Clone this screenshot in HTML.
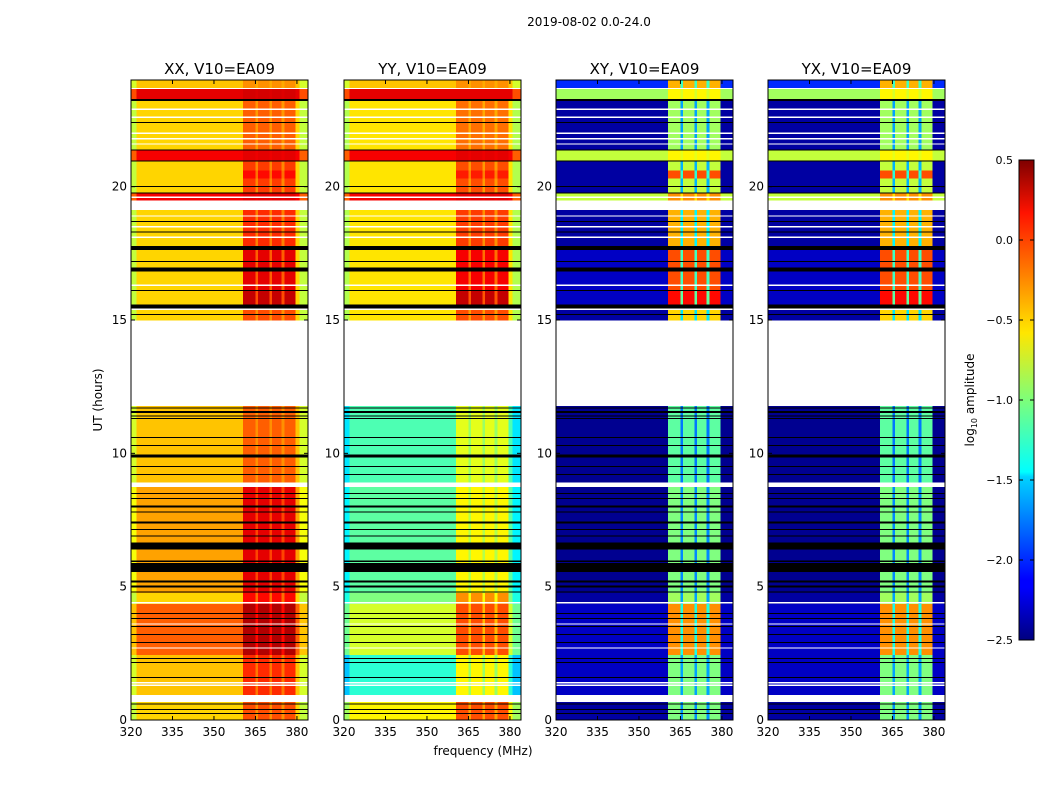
<!DOCTYPE html>
<html><head><meta charset="utf-8"><style>
body{margin:0;background:#fff;width:1050px;height:800px;overflow:hidden;font-family:"Liberation Sans","DejaVu Sans",sans-serif}
svg text{font-family:"DejaVu Sans","Liberation Sans",sans-serif;fill:#000}
</style></head><body>
<svg id="chart" width="1050" height="800" viewBox="0 0 1050 800" xmlns="http://www.w3.org/2000/svg">
<defs><linearGradient id="jet" x1="0" y1="1" x2="0" y2="0">
<stop offset="0" stop-color="#00007f"/><stop offset="0.11" stop-color="#0000ff"/><stop offset="0.125" stop-color="#0000ff"/><stop offset="0.34" stop-color="#00d4ff"/><stop offset="0.35" stop-color="#0ff"/><stop offset="0.5" stop-color="#7dff7a"/><stop offset="0.64" stop-color="#ffe600"/><stop offset="0.66" stop-color="#ffd700"/><stop offset="0.89" stop-color="#ff1300"/><stop offset="1" stop-color="#7f0000"/>
</linearGradient></defs>
<text x="589" y="26" font-size="12" text-anchor="middle">2019-08-02 0.0-24.0</text>
<text x="483" y="755" font-size="12" text-anchor="middle">frequency (MHz)</text>
<text x="0" y="0" font-size="12" text-anchor="middle" transform="translate(102,400) rotate(-90)">UT (hours)</text>
<g id="panels"></g>
<g>
<rect x="1019" y="160" width="15" height="480" fill="url(#jet)" stroke="#000" stroke-width="1"/>
<g id="cbticks"></g>
<text x="0" y="0" font-size="12" text-anchor="middle" transform="translate(974,400) rotate(-90)">log<tspan font-size="8" dy="3">10</tspan><tspan dy="-3"> amplitude</tspan></text>
</g>
</svg>
<script>
// ---- data ----
const panelTitles = ['XX, V10=EA09','YY, V10=EA09','XY, V10=EA09','YX, V10=EA09'];
const freqEdges = [320,322,326,345,356,360.5,365,366,370,371,374.5,375.5,379.5,381,384];
const colKind = ['e','m','m','m','m','h','g','h','g','h','g','h','m','e'];
const segT0 = [23.7,23.25,21.37,20.96,20.6,20.3,19.76,19.5,17.7,16.1,15.4,15.0,8.92,4.76,4.35,2.44,0.94,0.0];
const segT1 = [24.0,23.66,23.25,21.37,20.96,20.6,20.3,19.76,19.12,17.7,16.1,15.4,11.78,8.74,4.76,4.35,2.44,0.68];
const xxBase = [-0.45,0.2,-0.5,0.15,-0.5,-0.5,-0.5,0.15,-0.5,-0.5,-0.5,-0.5,-0.45,-0.35,-0.5,-0.15,-0.45,-0.5];
const xxHot  = [-0.3,0.25,-0.15,0.2,-0.05,0.1,-0.05,0.2,0.0,0.2,0.3,-0.1,-0.15,0.2,0.1,0.35,0.0,-0.1];
const yyBase = [-0.45,0.2,-0.55,0.15,-0.55,-0.55,-0.55,0.15,-0.55,-0.55,-0.55,-0.55,-1.15,-1.1,-1.0,-0.75,-1.25,-0.6];
const yyHot  = [-0.3,0.2,-0.2,0.2,-0.1,0.05,-0.1,0.2,-0.05,0.15,0.3,-0.1,-0.7,-0.6,-0.3,-0.1,-0.6,-0.1];
const xyBase = [-2.0,-0.9,-2.4,-0.8,-2.4,-2.4,-2.4,-0.8,-2.4,-2.3,-2.3,-2.4,-2.45,-2.45,-2.4,-2.3,-2.3,-2.4];
const xyHot  = [-0.4,-0.6,-0.9,-0.6,-0.8,-0.1,-0.8,-0.3,-0.4,-0.1,0.1,-0.5,-1.1,-1.0,-0.9,-0.3,-1.0,-1.0];
const yxBase = [-2.0,-0.9,-2.4,-0.8,-2.4,-2.4,-2.4,-0.8,-2.4,-2.3,-2.3,-2.4,-2.45,-2.45,-2.4,-2.3,-2.3,-2.4];
const yxHot  = [-0.4,-0.6,-0.9,-0.6,-0.8,-0.1,-0.8,-0.3,-0.4,-0.1,0.1,-0.5,-1.1,-1.0,-0.9,-0.3,-1.0,-1.0];
const blackT = [23.25,22.4,21.37,20.96,20.0,19.76,18.7,18.3,17.7,17.2,16.9,16.1,15.5,15.2,11.7,11.55,11.4,11.3,10.6,10.3,9.9,9.5,9.2,8.5,8.3,8.0,7.8,7.4,7.15,6.9,6.52,5.95,5.72,5.2,5.0,4.8,4.0,3.8,3.5,3.2,2.9,2.7,2.3,2.15,1.6,0.6,0.4,0.25];
const blackW = [0.07,0.04,0.04,0.04,0.04,0.04,0.04,0.04,0.15,0.04,0.15,0.04,0.15,0.04,0.04,0.07,0.04,0.04,0.04,0.04,0.1,0.04,0.04,0.04,0.04,0.07,0.04,0.07,0.04,0.04,0.26,0.05,0.34,0.07,0.07,0.04,0.04,0.04,0.04,0.04,0.04,0.04,0.04,0.04,0.04,0.04,0.04,0.04];
const whiteT = [23.68,22.9,22.6,22.0,21.8,21.6,19.6,18.9,18.5,18.1,16.3,15.4,4.4,3.6,2.7,1.4,1.3];
const xTicks = [320,335,350,365,380];
const yTicks = [0,5,10,15,20];
const cbTicks = [0.5,0.0,-0.5,-1.0,-1.5,-2.0,-2.5];

// ---- scales ----
const panelLeft = [131,344,556,768], PW=177, PT=80, PB=720;
const F0=320,F1=384,T0=0,T1=24,VMIN=-2.5,VMAX=0.5;
const bases=[xxBase,yyBase,xyBase,yxBase], hots=[xxHot,yyHot,xyHot,yxHot];
function xs(p,f){return panelLeft[p]+(f-F0)/(F1-F0)*PW;}
function ys(t){return PB-(t-T0)/(T1-T0)*(PB-PT);}
function jet(v){
  let x=(v-VMIN)/(VMAX-VMIN); x=Math.max(0,Math.min(1,x));
  const r=Math.min(4*x-1.5,-4*x+4.5), g=Math.min(4*x-0.5,-4*x+3.5), b=Math.min(4*x+0.5,-4*x+2.5);
  const c=z=>Math.round(255*Math.max(0,Math.min(1,z)));
  return `rgb(${c(r)},${c(g)},${c(b)})`;
}
const NS='http://www.w3.org/2000/svg';
function mk(tag,attrs,parent){const e=document.createElementNS(NS,tag);for(const k in attrs)e.setAttribute(k,attrs[k]);parent.appendChild(e);return e;}
const panels=document.getElementById('panels');
for(let p=0;p<4;p++){
  const g=mk('g',{},panels);
  
  
  const hm=mk('g',{'shape-rendering':'crispEdges'},g);
  
  
  for(let s=0;s<segT0.length;s++){
    const b=bases[p][s], h=hots[p][s];
    const y0=ys(segT1[s]), y1=ys(segT0[s]);
    for(let c=0;c<colKind.length;c++){
      const k=colKind[c];
      let v = k==='h'?h : k==='g'?(b+h)/2 : k==='e'?(p<2?b-0.3:b) : b;
      const x0=xs(p,freqEdges[c]), x1=xs(p,freqEdges[c+1]);
      const r=mk('rect',{x:x0.toFixed(2),y:y0.toFixed(2),width:(x1-x0+0.4).toFixed(2),height:(y1-y0+0.3).toFixed(2),fill:jet(v)},hm);
      
      
    }
  }
  for(let i=0;i<blackT.length;i++){
    const hh=Math.max(1,blackW[i]/(T1-T0)*(PB-PT));
    const r=mk('rect',{x:panelLeft[p],y:(ys(blackT[i])-hh/2).toFixed(2),width:PW,height:hh.toFixed(2),fill:'#000'},hm);
    
    
  }
  for(let i=0;i<whiteT.length;i++){
    const r=mk('rect',{x:panelLeft[p],y:(ys(whiteT[i])-0.6).toFixed(2),width:PW,height:1.2,fill:'#fff'},hm);
    
    
  }
  const fr=mk('rect',{x:panelLeft[p],y:PT,width:PW,height:PB-PT,fill:'none',stroke:'#000','stroke-width':1},g);
  
  
  const tt=mk('text',{x:panelLeft[p]+PW/2,y:74,'font-size':15,'text-anchor':'middle'},g);
  tt.textContent=panelTitles[p];
  
  
  for(const f of xTicks){
    const x=xs(p,f);
    mk('line',{x1:x,x2:x,y1:PB,y2:PB-4,stroke:'#000'},g);
    mk('line',{x1:x,x2:x,y1:PT,y2:PT+4,stroke:'#000'},g);
    const t=mk('text',{x:x,y:PB+16,'font-size':12,'text-anchor':'middle'},g);
    t.textContent=f;
    
    
  }
  for(const v of yTicks){
    const y=ys(v);
    mk('line',{x1:panelLeft[p],x2:panelLeft[p]+4,y1:y,y2:y,stroke:'#000'},g);
    mk('line',{x1:panelLeft[p]+PW,x2:panelLeft[p]+PW-4,y1:y,y2:y,stroke:'#000'},g);
    const t=mk('text',{x:panelLeft[p]-4,y:y+4,'font-size':12,'text-anchor':'end'},g);
    t.textContent=v;
    
    
  }
}
const cbt=document.getElementById('cbticks');
for(const v of cbTicks){
  const y=640-(v-VMIN)/(VMAX-VMIN)*480;
  mk('line',{x1:1019,x2:1023,y1:y,y2:y,stroke:'#000'},cbt);
  mk('line',{x1:1034,x2:1030,y1:y,y2:y,stroke:'#000'},cbt);
  const t=mk('text',{x:1013,y:y+4,'font-size':11,'text-anchor':'end'},cbt);
  t.textContent=(v<0?'\u2212':'')+Math.abs(v).toFixed(1);
  
  
}
</script>
</body></html>
